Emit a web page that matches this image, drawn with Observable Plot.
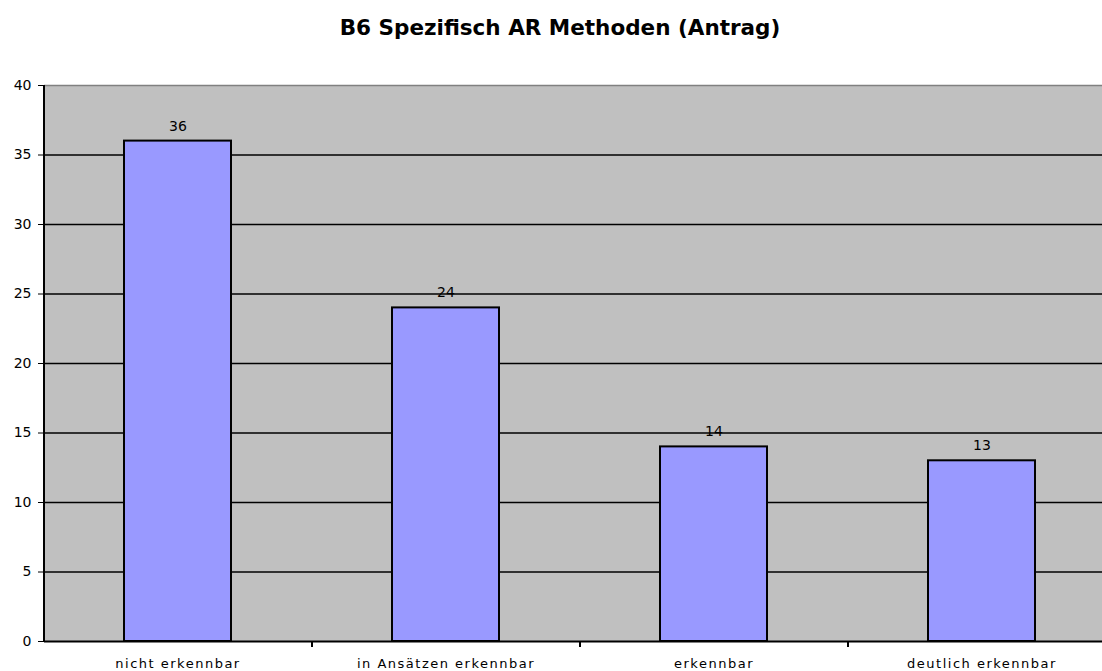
<!DOCTYPE html>
<html><head><meta charset="utf-8">
<script src="https://cdn.jsdelivr.net/npm/d3@7"></script>
<script src="https://cdn.jsdelivr.net/npm/@observablehq/plot@0.6"></script>
<style>
body{margin:0;background:#fff;overflow:hidden;font-family:"DejaVu Sans",Verdana,sans-serif}
#title{height:55px;box-sizing:border-box;padding-top:15px;padding-left:18px;text-align:center;font-weight:bold;font-size:21.5px;line-height:26px;color:#000}
</style></head>
<body>
<div id="title">B6 Spezifisch AR Methoden (Antrag)</div>
<div id="chart"></div>
<script>
const categories = ["nicht erkennbar", "in Ansätzen erkennbar", "erkennbar", "deutlich erkennbar"];
const values = [36, 24, 14, 13];
const yTicks = [0, 5, 10, 15, 20, 25, 30, 35, 40];

const data = categories.map((c, i) => ({category: c, value: values[i]}));

const width = 1102, height = 616;
const xRange = [44, 1116];
const step = (xRange[1] - xRange[0]) / categories.length;

const chart = Plot.plot({
  width, height,
  marginLeft: 44, marginRight: 0, marginTop: 30, marginBottom: 30,
  style: {fontFamily: "DejaVu Sans, Verdana, sans-serif", fontSize: "14px", background: "white", overflow: "visible", color: "black"},
  x: {domain: categories, range: xRange, paddingInner: 0.6, paddingOuter: 0.3, label: null, tickSize: 0, tickPadding: 17},
  y: {domain: [0, 40], ticks: yTicks, label: null, tickSize: 6, tickPadding: 7},
  marks: [
    Plot.frame({fill: "#c0c0c0", stroke: null}),
    Plot.ruleY(yTicks.filter(t => t > 0 && t < 40), {stroke: "black", strokeWidth: 1.5}),
    Plot.ruleY([40], {stroke: "#808080", strokeWidth: 1.5}),
    Plot.barY(data, {x: "category", y: "value", fill: "#9999ff", stroke: "black", strokeWidth: 2}),
    Plot.text(data, {x: "category", y: "value", text: d => String(d.value), dy: -15, fill: "black", fontSize: 14}),
    Plot.ruleY([0], {stroke: "black", strokeWidth: 2}),
    Plot.ruleX([categories[0]], {dx: -step / 2, stroke: "black", strokeWidth: 2}),
    Plot.ruleX(categories.slice(1), {dx: -step / 2, y1: 0, y2: 0, insetBottom: -6, stroke: "black", strokeWidth: 2})
  ]
});
chart.querySelectorAll('g[aria-label="x-axis tick label"] text, g[aria-label="x-axis"] text').forEach(t => {
  t.style.fontSize = "13px";
  t.style.letterSpacing = "1.5px";
});
document.getElementById("chart").appendChild(chart);
</script>
</body></html>
